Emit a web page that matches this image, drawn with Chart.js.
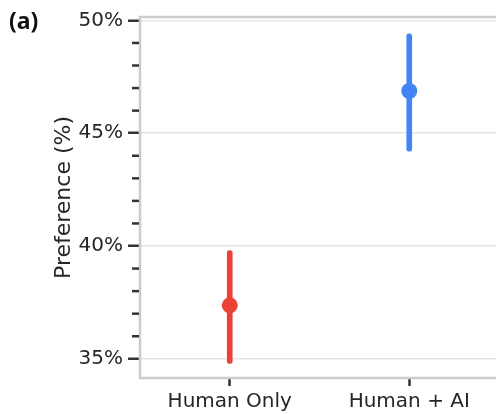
<!DOCTYPE html>
<html>
<head>
<meta charset="utf-8">
<script src="https://cdn.jsdelivr.net/npm/chart.js@4.4.1/dist/chart.umd.min.js"></script>
<style>
    html, body { margin: 0; padding: 0; overflow: hidden; background: #fff; }
    #wrap { position: relative; width: 510px; height: 414px; }
    #panel { position: absolute; left: 9px; top: 4px; font: bold 23px "Noto Sans"; color: #111; }
</style>
</head>
<body>
<div id="wrap">
    <canvas id="chartPreference" width="507" height="414"></canvas>
    <div id="panel">(a)</div>
</div>
<script>
const categories = ['Human Only', 'Human + AI'];
const meanValues = [37.37, 46.87];
const lowerValues = [34.8, 44.2];
const upperValues = [39.8, 49.4];
const pointColors = ['#EA4335', '#4285F4'];
const majorTicks = [35, 40, 45, 50];
const minorTicks = [36, 37, 38, 39, 41, 42, 43, 44, 46, 47, 48, 49];

const tickFont = { family: 'DejaVu Sans', size: 20 };
const titleFont = { family: 'DejaVu Sans', size: 22 };

// frame around the plot + minor ticks on the y axis
const framePlugin = {
    id: 'frame',
    beforeDatasetsDraw(chart) {
        const { ctx, chartArea } = chart;
        ctx.save();
        ctx.strokeStyle = '#cccccc';
        ctx.lineWidth = 2.5;
        ctx.strokeRect(chartArea.left, chartArea.top, chartArea.right - chartArea.left, chartArea.bottom - chartArea.top);
        ctx.restore();
    },
    afterDraw(chart) {
        const { ctx, chartArea } = chart;
        const y = chart.scales.y;
        ctx.save();
        ctx.strokeStyle = '#333333';
        ctx.lineWidth = 2.5;
        minorTicks.forEach(v => {
            const py = y.getPixelForValue(v);
            ctx.beginPath();
            ctx.moveTo(chartArea.left - 8, py);
            ctx.lineTo(chartArea.left - 1, py);
            ctx.stroke();
        });
        ctx.restore();
    }
};

const ctxPreference = document.getElementById('chartPreference').getContext('2d');

const chartPreference = new Chart(ctxPreference, {
    data: {
        labels: categories,
        datasets: [
            {
                type: 'line',
                label: 'Mean',
                data: meanValues,
                showLine: false,
                pointRadius: 8,
                pointHoverRadius: 8,
                pointBorderWidth: 0,
                pointBackgroundColor: pointColors,
                order: 0
            },
            {
                type: 'bar',
                label: 'Interval',
                data: categories.map((c, i) => [lowerValues[i], upperValues[i]]),
                backgroundColor: pointColors,
                barThickness: 5,
                borderRadius: 2.5,
                borderSkipped: false,
                order: 1
            }
        ]
    },
    options: {
        responsive: false,
        animation: false,
        layout: {
            padding: { left: 51, top: 16, right: 1, bottom: 0 }
        },
        plugins: {
            legend: { display: false },
            tooltip: { enabled: false }
        },
        scales: {
            x: {
                type: 'category',
                offset: true,
                border: { display: false },
                grid: {
                    offset: false,
                    drawOnChartArea: false,
                    tickLength: 8,
                    tickWidth: 2.5,
                    tickColor: '#333333'
                },
                ticks: {
                    font: tickFont,
                    color: '#262626',
                    padding: 4,
                    maxRotation: 0
                },
                afterFit(scale) { scale.height = 36; }
            },
            y: {
                type: 'linear',
                min: 34.15,
                max: 50.15,
                border: { display: false },
                grid: {
                    color: '#e5e5e5',
                    lineWidth: 1.5,
                    tickLength: 12,
                    tickWidth: 2.5,
                    tickColor: '#333333'
                },
                afterBuildTicks(scale) {
                    scale.ticks = majorTicks.map(v => ({ value: v }));
                },
                ticks: {
                    font: tickFont,
                    color: '#262626',
                    padding: 5,
                    callback: v => v + '%'
                },
                title: {
                    display: true,
                    text: 'Preference (%)',
                    font: titleFont,
                    color: '#262626',
                    padding: 0
                },
                afterFit(scale) { scale.width = 89; }
            }
        }
    },
    plugins: [framePlugin]
});
</script>
</body>
</html>
